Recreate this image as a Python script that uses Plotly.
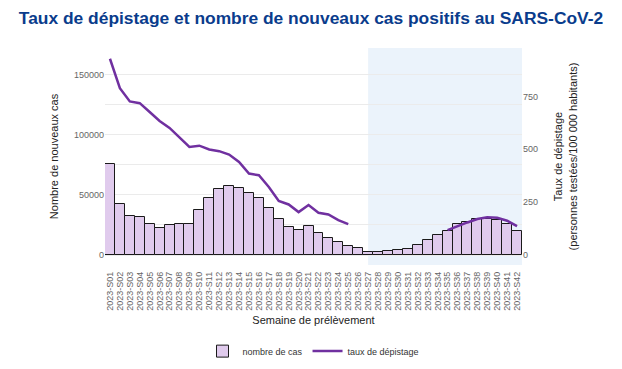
import plotly.graph_objects as go

weeks = [f"2023-S{i:02d}" for i in range(1, 43)]
cases = [75200, 42300, 32300, 31500, 25700, 22100, 24900, 26000, 25700, 37300,
         47500, 55200, 57000, 55800, 51700, 47500, 39200, 29600, 23000, 20500,
         24300, 18000, 14400, 10500, 7700, 5500, 2800, 2200, 3000, 3900,
         5000, 8000, 12100, 16300, 19600, 25700, 27600, 29600, 29600, 28700,
         26000, 19900]
rate = [928, 789, 726, 718, 676, 634, 601, 558, 511, 517,
        499, 491, 475, 440, 385, 377, 322, 256, 239, 203,
        236, 200, 192, 165, 146, None, None, None, None, None,
        None, None, None, None, 118, 137, 154, 170, 179, 176,
        162, 137]

FONT = "Liberation Sans, Arial, sans-serif"

fig = go.Figure()
fig.add_trace(go.Bar(
    x=weeks, y=cases, name="nombre de cas",
    marker=dict(color="#e0cbed", line=dict(color="#1a1a1a", width=1)),
    yaxis="y",
))
fig.add_trace(go.Scatter(
    x=weeks, y=rate, name="taux de dépistage", mode="lines",
    line=dict(color="#7030a0", width=2.5),
    yaxis="y2", connectgaps=False,
))

fig.add_shape(type="rect", xref="x", yref="paper",
              x0=26, x1=41.5, y0=0, y1=1,
              fillcolor="#ebf3fb", line=dict(width=0), layer="below")

fig.update_layout(
    width=622, height=369,
    margin=dict(l=105, r=100, t=48, b=104, autoexpand=False),
    paper_bgcolor="white", plot_bgcolor="white",
    font=dict(family=FONT, size=11, color="#222"),
    title=dict(text="<b>Taux de dépistage et nombre de nouveaux cas positifs au SARS-CoV-2</b>",
               x=0.5, xanchor="center", y=0.952, yanchor="middle",
               font=dict(family=FONT, size=17.4, color="#0a3c8c")),
    bargap=0,
    showlegend=True,
    legend=dict(orientation="h", x=0.5, xanchor="center", xref="paper",
                y=-0.33, yanchor="top", font=dict(size=9, color="#333"),
                itemwidth=30, tracegroupgap=0),
    xaxis=dict(
        type="category", range=[-0.5, 41.5],
        tickmode="array", tickvals=weeks, ticktext=weeks,
        tickangle=-90, tickfont=dict(size=9, color="#666"), ticklabelstandoff=4,
        title=dict(text="Semaine de prélèvement", font=dict(size=11, color="#222"), standoff=6),
        showgrid=False, ticks="", showline=False, zeroline=False, automargin=False,
    ),
    yaxis=dict(
        range=[-8290, 171960], dtick=50000, tickformat="d",
        tickfont=dict(size=9, color="#666"),
        title=dict(text="Nombre de nouveaux cas", font=dict(size=11, color="#222"), standoff=13),
        showgrid=True, gridcolor="#ebebeb", gridwidth=1,
        minor=dict(dtick=25000, showgrid=True, gridcolor="#ebebeb", ticks=""),
        zeroline=False, ticks="", showline=False, automargin=False,
    ),
    yaxis2=dict(
        range=[-47.2, 978.8], dtick=250, overlaying="y", side="right",
        tickfont=dict(size=9, color="#666"),
        title=dict(text="Taux de dépistage<br>(personnes testées/100 000 habitants)",
                   font=dict(size=11, color="#222"), standoff=17),
        showgrid=False, zeroline=False, ticks="", showline=False, automargin=False,
    ),
)

fig.write_html("out.html", config={"displayModeBar": False},
               post_script="document.body.style.margin='0';document.body.style.overflow='hidden';")
